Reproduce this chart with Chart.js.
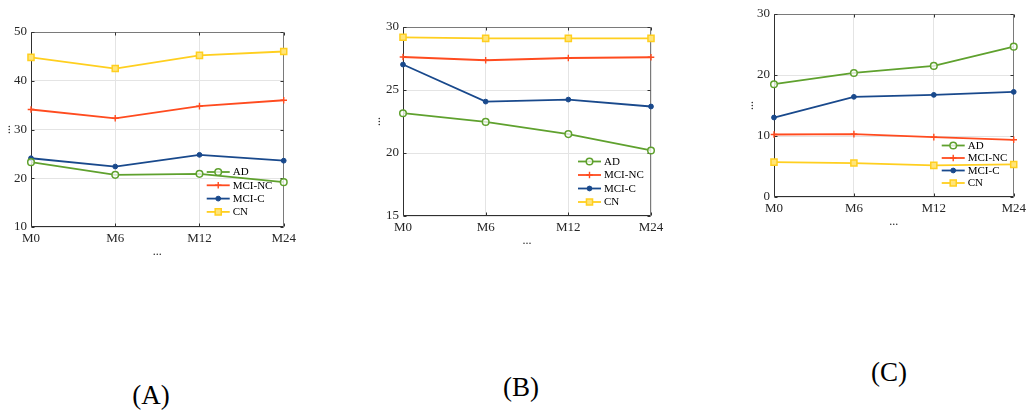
<!DOCTYPE html>
<html><head><meta charset="utf-8">
<script src="https://cdn.jsdelivr.net/npm/chart.js@4.4.0/dist/chart.umd.min.js"></script>
<style>
html,body{margin:0;padding:0;background:#fff}
body{width:1030px;height:416px;position:relative;overflow:hidden;font-family:"Liberation Serif","Times New Roman",serif}
canvas{position:absolute;display:block}
.cap{position:absolute;font-family:"Liberation Serif","Times New Roman",serif;font-size:27px;line-height:27px;transform:translateX(-50%);color:#000;white-space:nowrap}
</style></head><body>
<canvas id="ca" width="300" height="267" style="left:0px;top:0px"></canvas>
<canvas id="cb" width="300" height="256" style="left:370px;top:0px"></canvas>
<canvas id="cc" width="287" height="237" style="left:743px;top:0px"></canvas>
<div class="cap" style="left:151px;top:382px">(A)</div>
<div class="cap" style="left:521px;top:374px">(B)</div>
<div class="cap" style="left:889px;top:359px">(C)</div>
<script>
// ---- data ----
const months = ['M0', 'M6', 'M12', 'M24'];
const seriesNames = ['AD', 'MCI-NC', 'MCI-C', 'CN'];
const axisTitleX = '...';
const axisTitleY = '...';

const panelA_AD    = [23.3, 20.7, 20.9, 19.2];
const panelA_MCINC = [34.1, 32.3, 34.8, 36.0];
const panelA_MCIC  = [24.1, 22.4, 24.8, 23.6];
const panelA_CN    = [44.8, 42.5, 45.2, 46.0];
const panelA_yTicks = [10, 20, 30, 40, 50];

const panelB_AD    = [23.16, 22.47, 21.5, 20.2];
const panelB_MCINC = [27.62, 27.36, 27.54, 27.6];
const panelB_MCIC  = [27.02, 24.08, 24.24, 23.69];
const panelB_CN    = [29.18, 29.1, 29.1, 29.1];
const panelB_yTicks = [15, 20, 25, 30];

const panelC_AD    = [18.49, 20.34, 21.49, 24.65];
const panelC_MCINC = [10.25, 10.3, 9.82, 9.38];
const panelC_MCIC  = [13.03, 16.42, 16.74, 17.23];
const panelC_CN    = [5.72, 5.56, 5.18, 5.34];
const panelC_yTicks = [0, 10, 20, 30];

// ---- styles ----
const FONT = '"Liberation Serif", "Times New Roman", serif';
Chart.defaults.font.family = FONT;
Chart.defaults.color = '#262626';

const seriesStyle = [
  {color: '#5fa12e', marker: 'circle', radius: 3.3, fill: 'rgba(255,255,255,0.75)', bw: 1.5},
  {color: '#ff4b1f', marker: 'cross',  radius: 3.3, fill: '#ff4b1f', bw: 1.4},
  {color: '#19498c', marker: 'circle', radius: 2.4, fill: '#19498c', bw: 1},
  {color: '#ffcf1f', marker: 'rect',   radius: 4.3, fill: '#ffe47a', bw: 1.5}
];

function drawMarker(ctx, s, x, y) {
  ctx.save();
  ctx.strokeStyle = s.color; ctx.fillStyle = s.fill; ctx.lineWidth = s.bw;
  ctx.beginPath();
  if (s.marker === 'circle') {
    ctx.arc(x, y, s.radius, 0, Math.PI * 2); ctx.fill(); ctx.stroke();
  } else if (s.marker === 'cross') {
    ctx.moveTo(x - s.radius, y); ctx.lineTo(x + s.radius, y);
    ctx.moveTo(x, y - s.radius); ctx.lineTo(x, y + s.radius); ctx.stroke();
  } else {
    const h = Math.SQRT1_2 * s.radius;
    ctx.rect(x - h, y - h, 2 * h, 2 * h); ctx.fill(); ctx.stroke();
  }
  ctx.restore();
}

const framePlugin = {
  id: 'frame',
  beforeDatasetsDraw(chart) {
    const {ctx, chartArea: a} = chart;
    const L = Math.round(a.left) + 0.5, R = Math.round(a.right) - 0.5;
    const T = Math.round(a.top) + 0.5, B = Math.round(a.bottom) - 0.5;
    ctx.save();
    ctx.lineWidth = 1;
    ctx.strokeStyle = '#7a7a7a';
    ctx.beginPath(); ctx.moveTo(L, T); ctx.lineTo(R, T); ctx.lineTo(R, B); ctx.stroke();
    ctx.strokeStyle = '#303030';
    ctx.beginPath(); ctx.moveTo(L, T); ctx.lineTo(L, B); ctx.lineTo(R, B); ctx.stroke();
    // inward ticks
    const xs = chart.scales.x, ys = chart.scales.y, tl = 3;
    ctx.strokeStyle = '#303030';
    ctx.beginPath();
    xs.ticks.forEach((t, i) => {
      const px = Math.round(xs.getPixelForTick(i)) + 0.5;
      ctx.moveTo(px, B); ctx.lineTo(px, B - tl);
      ctx.moveTo(px, T); ctx.lineTo(px, T + tl);
    });
    ys.ticks.forEach((t, i) => {
      const py = Math.round(ys.getPixelForTick(i)) + 0.5;
      ctx.moveTo(L, py); ctx.lineTo(L + tl, py);
      ctx.moveTo(R, py); ctx.lineTo(R - tl, py);
    });
    ctx.stroke();
    ctx.restore();
  }
};

const legendPlugin = {
  id: 'inlegend',
  afterDatasetsDraw(chart, args, opts) {
    const {ctx, chartArea: a} = chart;
    const x0 = a.right - opts.dx, len = 23;
    ctx.save();
    ctx.font = '11px ' + FONT;
    ctx.textBaseline = 'middle';
    ctx.textAlign = 'left';
    chart.data.datasets.forEach((ds, i) => {
      const y = a.bottom - opts.dy + i * opts.gap;
      const s = seriesStyle[i];
      ctx.strokeStyle = s.color; ctx.lineWidth = 1.8;
      ctx.beginPath(); ctx.moveTo(x0, y); ctx.lineTo(x0 + len, y); ctx.stroke();
      drawMarker(ctx, s, x0 + len / 2, y);
      ctx.fillStyle = '#000';
      ctx.fillText(ds.label, x0 + len + 3, y + 0.5);
    });
    ctx.restore();
  }
};

function makeChart(id, values, yTicks, yWidth, padTop, padRight, leg) {
  const datasets = values.map((v, i) => {
    const s = seriesStyle[i];
    return {
      label: seriesNames[i], data: v,
      borderColor: s.color, borderWidth: 1.8, backgroundColor: s.fill,
      pointStyle: s.marker === 'rect' ? 'rect' : (s.marker === 'cross' ? 'cross' : 'circle'),
      pointRadius: s.radius, pointHoverRadius: s.radius,
      pointBorderColor: s.color, pointBackgroundColor: s.fill, pointBorderWidth: s.bw,
      tension: 0, fill: false
    };
  });
  return new Chart(document.getElementById(id), {
    type: 'line',
    data: {labels: months, datasets},
    plugins: [framePlugin, legendPlugin],
    options: {
      responsive: false, animation: false,
      layout: {padding: {top: padTop, right: padRight, left: 0, bottom: 0}},
      plugins: {legend: {display: false}, tooltip: {enabled: false}, inlegend: leg},
      scales: {
        x: {
          type: 'category', offset: false,
          grid: {color: '#e4e4e4', lineWidth: 1, drawTicks: false},
          border: {display: false},
          ticks: {font: {size: 13, family: FONT}, color: '#262626', padding: 4, maxRotation: 0, autoSkip: false},
          title: {display: true, text: axisTitleX, font: {size: 12, family: FONT}, color: '#262626', padding: {top: 0, bottom: 8}},
          afterFit(s) { s.height = 40; }
        },
        y: {
          min: yTicks[0], max: yTicks[yTicks.length - 1],
          grid: {color: '#e4e4e4', lineWidth: 1, drawTicks: false},
          border: {display: false},
          ticks: {stepSize: yTicks[1] - yTicks[0], font: {size: 13, family: FONT}, color: '#262626', padding: 4},
          title: {display: true, text: axisTitleY, font: {size: 12, family: FONT}, color: '#262626', padding: {top: 0, bottom: 0}},
          afterFit(s) { s.width = yWidth; }
        }
      }
    }
  });
}

makeChart('ca', [panelA_AD, panelA_MCINC, panelA_MCIC, panelA_CN], panelA_yTicks, 31, 32, 13, {dx: 77, dy: 55, gap: 13.3});
makeChart('cb', [panelB_AD, panelB_MCINC, panelB_MCIC, panelB_CN], panelB_yTicks, 33, 27, 19, {dx: 73, dy: 54.5, gap: 13.5});
makeChart('cc', [panelC_AD, panelC_MCINC, panelC_MCIC, panelC_CN], panelC_yTicks, 31, 14, 13, {dx: 72, dy: 51.5, gap: 12.5});
</script>
</body></html>
